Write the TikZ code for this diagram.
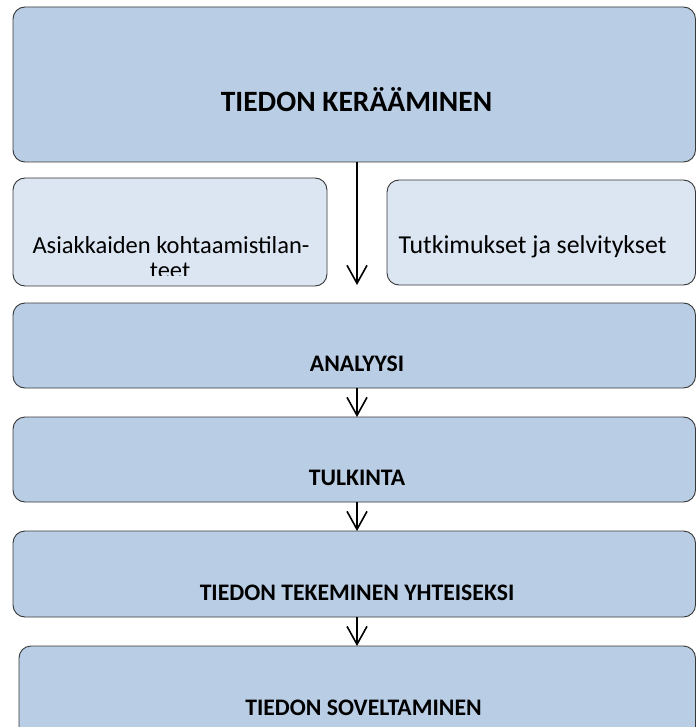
\documentclass[tikz,border=0pt]{standalone}
\usepackage{fontspec}
\setmainfont{Carlito}
\usetikzlibrary{arrows.meta}
\definecolor{darkfill}{RGB}{185,205,229}
\definecolor{lightfill}{RGB}{220,230,242}
\definecolor{edge}{RGB}{55,55,55}
\tikzset{
  box/.style={draw=edge, line width=0.9pt, rounded corners=12pt, anchor=north west, inner sep=0pt, outer sep=0pt},
  bigbox/.style={box, fill=darkfill},
  smallbox/.style={box, fill=lightfill},
  head/.style={anchor=base, inner sep=0pt, font=\bfseries\fontsize{23.7}{28}\selectfont},
  plain/.style={anchor=base, inner sep=0pt, font=\fontsize{24.5}{29}\selectfont},
  arr/.style={line width=1.6pt, -{Straight Barb[length=18pt,width=20pt,line width=1.6pt]}}
}
\begin{document}
\begin{tikzpicture}[x=1pt,y=-1pt]
\clip (0,0) rectangle (696,727);
\useasboundingbox (0,0) rectangle (696,727);
\fill[white] (0,0) rectangle (696,727);
% boxes
\node[bigbox, minimum width=682.5pt, minimum height=155pt] (top) at (13,7) {};
\node[smallbox, minimum width=314pt, minimum height=108pt] (left) at (13,178) {};
\node[smallbox, minimum width=308.5pt, minimum height=105pt] (right) at (387,180) {};
\node[bigbox, minimum width=682.5pt, minimum height=85pt] (ana) at (13,303) {};
\node[bigbox, minimum width=682.5pt, minimum height=85pt] (tul) at (13,417) {};
\node[bigbox, minimum width=682.5pt, minimum height=86pt] (yht) at (13,531) {};
\node[bigbox, minimum width=676.5pt, minimum height=120pt] (sov) at (19,646) {};
% texts
\node[anchor=base, inner sep=0pt, font=\bfseries\fontsize{29.5}{34}\selectfont] (toptext) at (356.5,112) {TIEDON KERÄÄMINEN};
\begin{scope}
\clip (13,178) rectangle (327,275);
\node[plain] (lefttext1) at (171,253) {Asiakkaiden kohtaamistilan-};
\node[plain] (lefttext2) at (170,278) {teet};
\end{scope}
\node[plain, font=\fontsize{25.8}{30}\selectfont] (righttext) at (532.5,253) {Tutkimukset ja selvitykset};
\node[head] (anatext) at (357,371) {ANALYYSI};
\node[head] (tultext) at (357,485) {TULKINTA};
\node[head] (yhttext) at (357,600) {TIEDON TEKEMINEN YHTEISEKSI};
\node[head] (sovtext) at (363.5,715) {TIEDON SOVELTAMINEN};
% arrows
\coordinate (xarr) at (357,0);
\coordinate (tip1) at (357,285);
\draw[arr] (top.south -| xarr) -- (tip1);
\draw[arr] (ana.south -| xarr) -- (tul.north -| xarr);
\draw[arr] (tul.south -| xarr) -- (yht.north -| xarr);
\draw[arr] (yht.south -| xarr) -- (sov.north -| xarr);
\end{tikzpicture}
\end{document}
